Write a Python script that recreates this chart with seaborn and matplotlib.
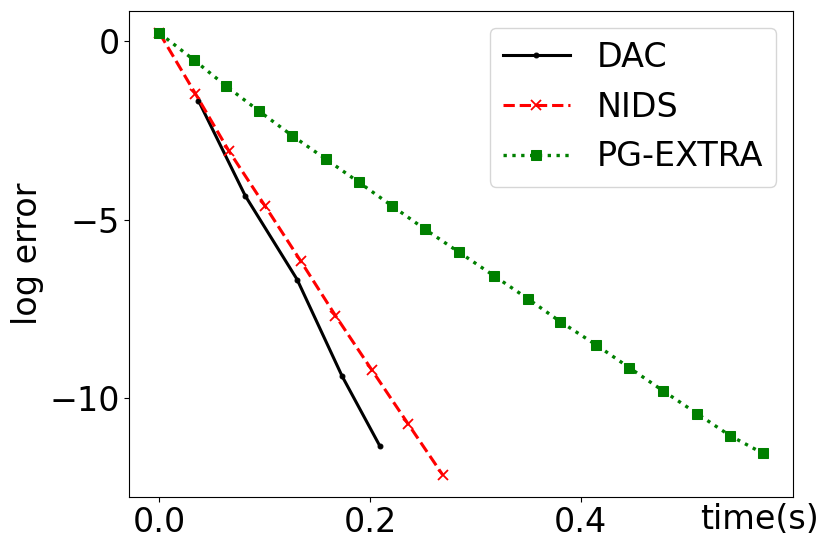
import numpy as np
import pandas as pd
import matplotlib
matplotlib.use("Agg")
import matplotlib.pyplot as plt
import seaborn as sns

# Data
dac_t = [0.0370, 0.0815, 0.1308, 0.1735, 0.2095]
dac_err = [-1.665, -4.329, -6.672, -9.375, -11.337]

nids_t = [0.0, 0.0341, 0.0658, 0.1002, 0.1343, 0.1672, 0.2016, 0.2360, 0.2689]
nids_err = [0.224, -1.469, -3.067, -4.609, -6.159, -7.682, -9.196, -10.701, -12.131]

pg_t = [0.0, 0.0326, 0.0635, 0.0948, 0.1261, 0.1580, 0.1896, 0.2212, 0.2521,
        0.2850, 0.3175, 0.3498, 0.3808, 0.4146, 0.4464, 0.4784, 0.5106, 0.5419, 0.5732]
pg_err = [0.224, -0.524, -1.262, -1.962, -2.647, -3.300, -3.953, -4.617, -5.262,
          -5.915, -6.560, -7.205, -7.850, -8.495, -9.139, -9.784, -10.421, -11.037, -11.534]

x_ticks = [0.0, 0.2, 0.4]
y_ticks = [0, -5, -10]

plt.rcParams['font.family'] = ['DejaVu Sans']
FS = 24

fig = plt.figure(figsize=(8.3, 5.51), dpi=100)
ax = fig.add_axes([0.1558, 0.0985, 0.7996, 0.8815])

sns.lineplot(x=dac_t, y=dac_err, ax=ax, color='black', linestyle='-', marker='.',
             markersize=7, linewidth=2.2, label='DAC', sort=False, markeredgecolor='black')
sns.lineplot(x=nids_t, y=nids_err, ax=ax, color='red', linestyle='--', marker='x',
             markersize=6.5, linewidth=2.2, label='NIDS', sort=False, markeredgecolor='red',
             markeredgewidth=1.3)
sns.lineplot(x=pg_t, y=pg_err, ax=ax, color='green', linestyle=':', marker='s',
             markersize=7, linewidth=2.4, label='PG-EXTRA', sort=False, markeredgecolor='green')

ax.set_xticks(x_ticks)
ax.set_yticks(y_ticks)
ax.tick_params(labelsize=FS)
ax.set_ylabel('log error', fontsize=FS)
ax.set_xlabel('time(s)', fontsize=FS)
ax.xaxis.set_label_coords(0.949, -0.012)
ax.legend(loc='upper right', fontsize=FS)

fig.savefig('out.png', dpi=100)
